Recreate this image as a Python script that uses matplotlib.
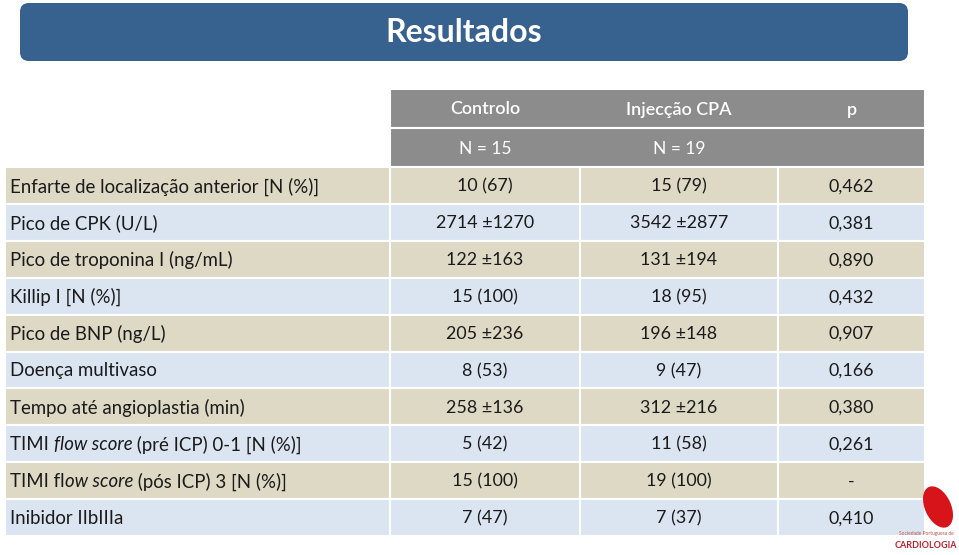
import matplotlib
matplotlib.use("Agg")
import matplotlib.pyplot as plt
from matplotlib.patches import Rectangle, FancyBboxPatch, Ellipse

# ==========================================
# DATA
# ==========================================
TITLE = "Resultados"
GROUPS = ["Controlo", "Injecção CPA", "p"]
GROUP_N = ["N = 15", "N = 19", ""]

# each label is a list of (text, italic) segments
LABELS = [
    [("Enfarte de localização anterior [N (%)]", False)],
    [("Pico de CPK (U/L)", False)],
    [("Pico de troponina I (ng/mL)", False)],
    [("Killip I [N (%)]", False)],
    [("Pico de BNP (ng/L)", False)],
    [("Doença multivaso", False)],
    [("Tempo até angioplastia (min)", False)],
    [("TIMI ", False), ("flow score", True), (" (pré ICP) 0-1 [N (%)]", False)],
    [("TIMI fl", False), ("ow score", True), (" (pós ICP) 3 [N (%)]", False)],
    [("Inibidor IIbIIIa", False)],
]
CONTROLO = ["10 (67)", "2714 ±1270", "122 ±163", "15 (100)", "205 ±236",
            "8 (53)", "258 ±136", "5 (42)", "15 (100)", "7 (47)"]
CPA = ["15 (79)", "3542 ±2877", "131 ±194", "18 (95)", "196 ±148",
       "9 (47)", "312 ±216", "11 (58)", "19 (100)", "7 (37)"]
P_VALUES = ["0,462", "0,381", "0,890", "0,432", "0,907",
            "0,166", "0,380", "0,261", "-", "0,410"]

# ==========================================
# STYLE
# ==========================================
FONT = "Lato"
TAN = "#DDD9C4"
BLUE = "#DBE5F1"
GRAY = "#8C8C8C"
TITLE_BLUE = "#37618F"
TXT = "#1A1A1A"
LABEL_FS = 13.4
VALUE_FS = 12.9

W, H = 959, 555
COL_X = [5, 390, 580, 778, 925]
HEAD_TOP, HEAD_MID, HEAD_BOT = 89, 128, 167
ROW_H = 36.9

fig = plt.figure(figsize=(W / 100, H / 100), dpi=100)
ax = fig.add_axes([0, 0, 1, 1])
ax.set_xlim(0, W)
ax.set_ylim(H, 0)
ax.axis("off")

# title bar
ax.add_patch(FancyBboxPatch((20, 3), 888, 58, boxstyle="round,pad=0,rounding_size=9",
                            fc=TITLE_BLUE, ec="none"))
ax.text(464, 33, TITLE, ha="center", va="center", color="white",
        fontsize=23, fontweight="bold", family=FONT)

# header
for top, bot in [(HEAD_TOP, HEAD_MID), (HEAD_MID, HEAD_BOT)]:
    ax.add_patch(Rectangle((COL_X[1], top), COL_X[4] - COL_X[1], bot - top,
                           fc=GRAY, ec="white", lw=1.5))
for i, g in enumerate(GROUPS):
    cx = (COL_X[i + 1] + COL_X[i + 2]) / 2
    ax.text(cx, (HEAD_TOP + HEAD_MID) / 2 + 1, g, ha="center", va="center",
            color="white", fontsize=13, family=FONT, fontweight="semibold")
    ax.text(cx, (HEAD_MID + HEAD_BOT) / 2 + 1, GROUP_N[i], ha="center", va="center",
            color="white", fontsize=12.5, family=FONT)

fig.canvas.draw()
renderer = fig.canvas.get_renderer()


def seg_width(s, italic):
    # width of a text segment incl. spaces, measured with a bar on both sides
    kw = dict(fontsize=LABEL_FS, family=FONT, style="italic" if italic else "normal")
    t1 = ax.text(0, 0, "|" + s + "|", **kw)
    t2 = ax.text(0, 0, "||", **kw)
    w = t1.get_window_extent(renderer).width - t2.get_window_extent(renderer).width
    t1.remove()
    t2.remove()
    return w


# body
for r in range(len(LABELS)):
    top = HEAD_BOT + r * ROW_H
    fc = TAN if r % 2 == 0 else BLUE
    for c in range(4):
        ax.add_patch(Rectangle((COL_X[c], top), COL_X[c + 1] - COL_X[c], ROW_H,
                               fc=fc, ec="white", lw=1.5))
    cy = top + ROW_H / 2 + 1
    x = 10
    for s, it in LABELS[r]:
        ax.text(x, cy, s, ha="left", va="center", color=TXT, fontsize=LABEL_FS,
                family=FONT, style="italic" if it else "normal")
        x += seg_width(s, it)
    for c, vals in enumerate([CONTROLO, CPA, P_VALUES]):
        cx = (COL_X[c + 1] + COL_X[c + 2]) / 2
        ax.text(cx, cy, vals[r], ha="center", va="center", color=TXT,
                fontsize=VALUE_FS, family=FONT)

# society logo (rough)
ax.add_patch(Ellipse((938, 507), 26, 44, angle=-25, fc="#D7141A", ec="none"))
ax.text(926, 534, "Sociedade Portuguesa de", ha="center", va="center",
        fontsize=3.5, color="#C0504D", family=FONT)
ax.text(926, 546, "CARDIOLOGIA", ha="center", va="center", fontsize=6.5,
        color="#C0202A", fontweight="bold", family=FONT)

fig.savefig("out.png", dpi=100)
